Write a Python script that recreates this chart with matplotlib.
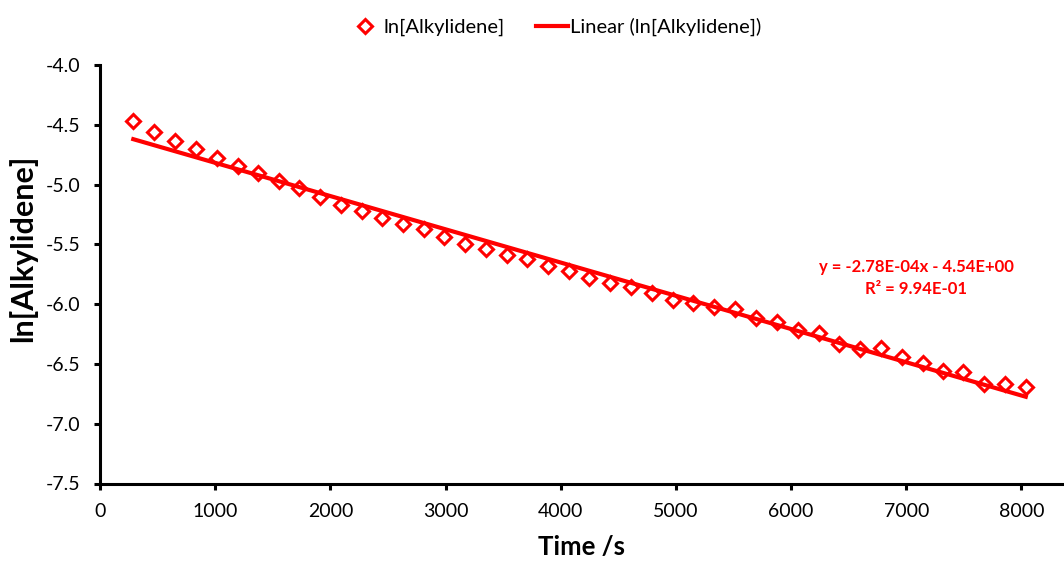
import matplotlib
matplotlib.use("Agg")
import matplotlib.pyplot as plt
import numpy as np

plt.rcParams['font.family'] = ['Lato', 'DejaVu Sans']

# --- Dados: ln[alquilideno] ao longo do tempo ---
tempo_s = [289, 469, 651, 834, 1016, 1196, 1375, 1552, 1731, 1913,
           2090, 2272, 2451, 2634, 2813, 2990, 3170, 3349, 3532, 3711,
           3893, 4073, 4249, 4431, 4608, 4791, 4973, 5152, 5333, 5511,
           5694, 5879, 6059, 6242, 6419, 6600, 6777, 6960, 7142, 7323,
           7497, 7676, 7855, 8038]
ln_alquilideno = [-4.468, -4.560, -4.635, -4.700, -4.775, -4.842, -4.900, -4.970, -5.031, -5.108,
                  -5.168, -5.221, -5.282, -5.329, -5.371, -5.438, -5.499, -5.541, -5.589, -5.622,
                  -5.678, -5.722, -5.778, -5.820, -5.859, -5.909, -5.965, -5.992, -6.028, -6.038,
                  -6.115, -6.150, -6.213, -6.242, -6.330, -6.375, -6.368, -6.439, -6.496, -6.557,
                  -6.564, -6.664, -6.672, -6.696]

# Ajuste linear (valores da equação mostrada)
INCLINACAO = -2.78e-4
INTERCEPTO = -4.54
R2 = 0.994

VERMELHO = '#FF0000'

fig = plt.figure(figsize=(10.64, 5.61), dpi=100)
ax = fig.add_axes([100 / 1064, 1 - 483.5 / 561, 1 - 100 / 1064, (483.5 - 65) / 561])

ax.plot(tempo_s, ln_alquilideno, linestyle='none', marker='D', markersize=7,
        markerfacecolor='none', markeredgecolor=VERMELHO, markeredgewidth=2.2,
        label='ln[Alkylidene]', zorder=3)

x_fit = np.array([min(tempo_s), max(tempo_s)])
ax.plot(x_fit, INCLINACAO * x_fit + INTERCEPTO, color=VERMELHO, linewidth=3,
        label='Linear (ln[Alkylidene])', zorder=2)

# Equação da reta e R² ao lado da linha
ax.text(7086, -5.783, f'y = {INCLINACAO:.2E}x - {abs(INTERCEPTO):.2E}\nR² = {R2:.2E}',
        color=VERMELHO, fontsize=12, fontweight='bold', ha='center', va='center',
        linespacing=1.45)

ax.set_xlim(0, 8370)
ax.set_ylim(-7.5, -4.0)
ax.set_xticks(range(0, 8001, 1000))
ax.set_yticks(np.arange(-7.5, -3.99, 0.5))
ax.yaxis.set_major_formatter(matplotlib.ticker.FormatStrFormatter('%.1f'))

for lado in ['top', 'right']:
    ax.spines[lado].set_visible(False)
for lado in ['left', 'bottom']:
    ax.spines[lado].set_linewidth(2.2)
ax.tick_params(direction='out', length=4, width=2.2, labelsize=14, pad=10)

ax.set_xlabel('Time /s', fontsize=18.5, fontweight='bold', labelpad=11)
ax.set_ylabel('ln[Alkylidene]', fontsize=22, fontweight='bold')
ax.yaxis.set_label_coords(-63 / 964, 0.563)

fig.legend(loc='upper center', bbox_to_anchor=(0.522, 1.0), ncol=2, frameon=False,
           fontsize=14.5, handlelength=1.6, columnspacing=1.55, handletextpad=0.1)

fig.savefig('out.png', dpi=100)
